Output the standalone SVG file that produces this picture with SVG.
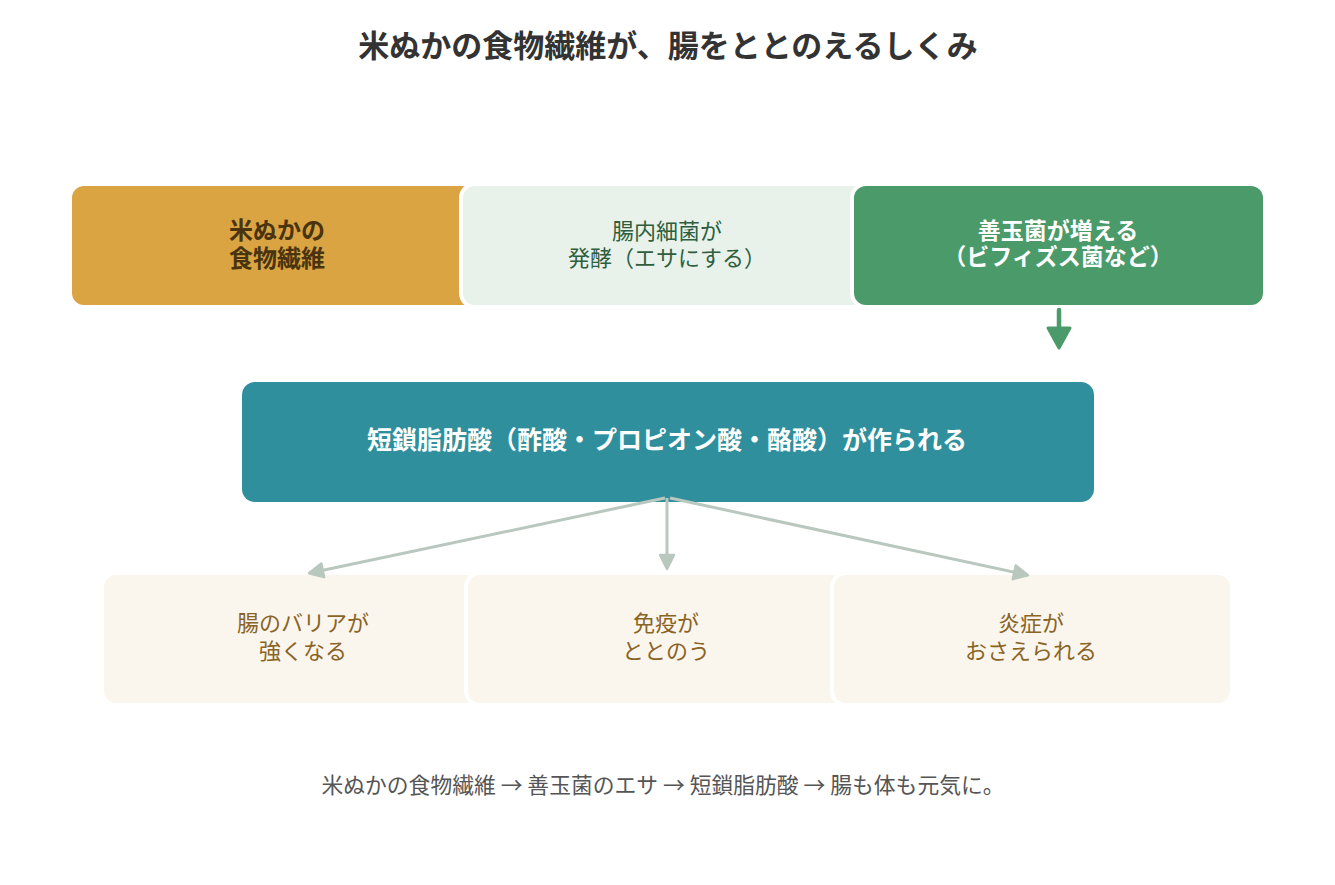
<svg xmlns="http://www.w3.org/2000/svg" width="1335" height="885" viewBox="0 0 1335 885">
<style>
  text { font-family: "Noto Sans CJK JP", "Noto Sans", sans-serif; text-anchor: middle; dominant-baseline: central; }
  .box { stroke: #FFFFFF; stroke-width: 4; }
  .title { font-size: 31px; font-weight: 700; fill: #333333; }
  .foot { font-size: 21.8px; fill: #555555; }
  .t1 { font-size: 24px; font-weight: 700; fill: #4A3410; }
  .t2 { font-size: 22px; fill: #2F5E3F; }
  .t3 { font-size: 23px; font-weight: 700; fill: #FFFFFF; }
  .tm { font-size: 25px; font-weight: 700; fill: #FFFFFF; }
  .tb { font-size: 22px; fill: #8A6425; }
  .conn { stroke: #B9C8BE; stroke-width: 3; fill: none; }
</style>
<defs>
  <marker id="ah" markerUnits="userSpaceOnUse" markerWidth="20" markerHeight="20" viewBox="0 0 20 20" refX="15" refY="10" orient="auto">
    <path d="M2,3 L16,10 L2,17 Z" fill="#B9C8BE" stroke="#B9C8BE" stroke-width="2.5" stroke-linejoin="round"/>
  </marker>
</defs>
<rect width="1335" height="885" fill="#FFFFFF"/>
<text class="title" x="668" y="43">米ぬかの食物繊維が、腸をととのえるしくみ</text>

<g id="node-nuka">
  <rect class="box" x="70" y="184" width="411" height="123" rx="14" fill="#D9A441"/>
  <text class="t1" x="277" y="228">米ぬかの</text>
  <text class="t1" x="277" y="256">食物繊維</text>
</g>
<g id="node-ferment">
  <rect class="box" x="461" y="184" width="411" height="123" rx="14" fill="#E8F2EA"/>
  <text class="t2" x="667" y="229">腸内細菌が</text>
  <text class="t2" x="667" y="256">発酵（エサにする）</text>
</g>
<g id="node-zendama">
  <rect class="box" x="852" y="184" width="413" height="123" rx="14" fill="#4A9A6A"/>
  <text class="t3" x="1058" y="229">善玉菌が増える</text>
  <text class="t3" x="1058" y="255">（ビフィズス菌など）</text>
</g>
<g id="node-scfa">
  <rect x="242" y="382" width="852" height="120" rx="13" fill="#2F8F9D"/>
  <text class="tm" x="667" y="438">短鎖脂肪酸（酢酸・プロピオン酸・酪酸）が作られる</text>
</g>
<g id="node-barrier">
  <rect class="box" x="102" y="573" width="400" height="132" rx="14" fill="#FAF6EE"/>
  <text class="tb" x="303" y="621">腸のバリアが</text>
  <text class="tb" x="303" y="649">強くなる</text>
</g>
<g id="node-immune">
  <rect class="box" x="466" y="573" width="400" height="132" rx="14" fill="#FAF6EE"/>
  <text class="tb" x="666" y="621">免疫が</text>
  <text class="tb" x="666" y="649">ととのう</text>
</g>
<g id="node-inflam">
  <rect class="box" x="832" y="573" width="400" height="132" rx="14" fill="#FAF6EE"/>
  <text class="tb" x="1031" y="621">炎症が</text>
  <text class="tb" x="1031" y="649">おさえられる</text>
</g>

<g id="connectors">
  <line x1="1059" y1="310" x2="1059" y2="330" stroke="#4A9A6A" stroke-width="4.5" stroke-linecap="round"/>
  <path d="M1048,328 L1070,328 L1059,348 Z" fill="#4A9A6A" stroke="#4A9A6A" stroke-width="3" stroke-linejoin="round"/>
  <line class="conn" x1="665" y1="498" x2="310" y2="573" marker-end="url(#ah)"/>
  <line class="conn" x1="667" y1="498" x2="667" y2="568" marker-end="url(#ah)"/>
  <line class="conn" x1="670" y1="498" x2="1027" y2="575" marker-end="url(#ah)"/>
</g>

<text class="foot" x="663" y="783">米ぬかの食物繊維 → 善玉菌のエサ → 短鎖脂肪酸 → 腸も体も元気に。</text>
</svg>
